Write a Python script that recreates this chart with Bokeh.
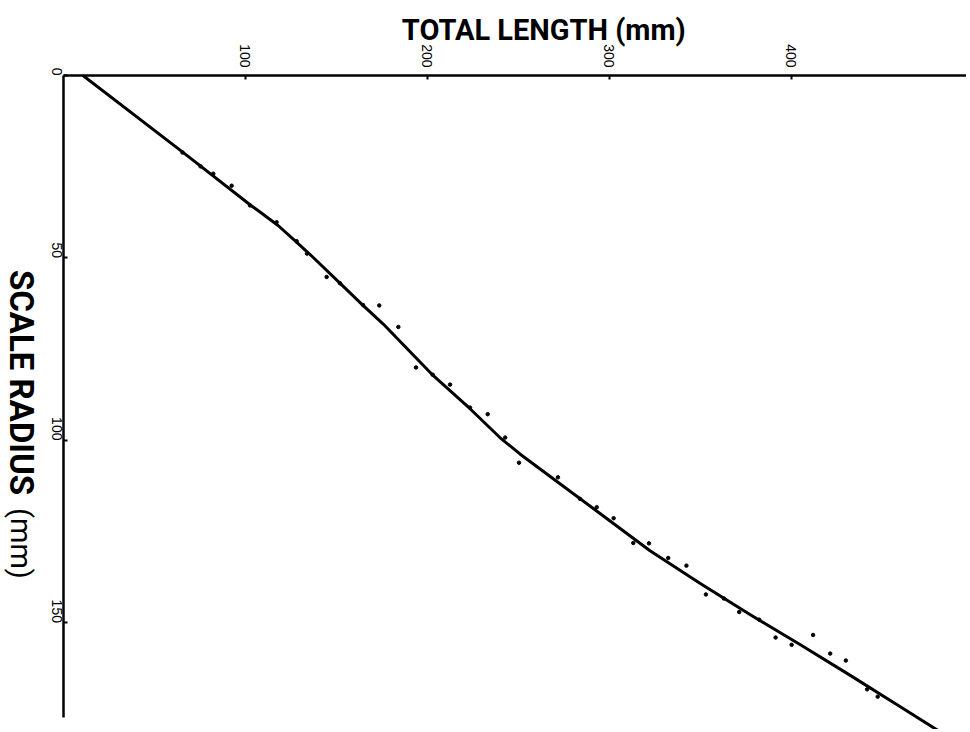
import math
from bokeh.plotting import figure
from bokeh.layouts import row
from bokeh.models import Range1d, FixedTicker, Label
from bokeh.embed import file_html
from bokeh.resources import INLINE

# Observed points: total length (mm) vs scale radius (mm)
total_length = [65.4, 75.3, 82.3, 92.4, 102.5, 117.1, 128.1, 133.8, 144.6, 151.9,
                164.6, 173.5, 184.0, 193.7, 202.9, 212.4, 223.4, 233.1, 242.7, 250.3,
                271.7, 283.8, 293.0, 302.3, 313.1, 321.7, 332.3, 342.3, 353.0, 362.9,
                371.3, 382.3, 391.3, 400.1, 411.9, 421.3, 429.9, 441.6, 447.4]
scale_radius = [21.1, 24.9, 26.9, 30.2, 35.6, 40.2, 45.4, 48.8, 55.2, 56.9,
                62.9, 63.0, 68.9, 80.0, 82.0, 84.7, 91.0, 92.8, 99.2, 106.1,
                110.1, 116.0, 118.3, 121.3, 128.1, 128.2, 132.2, 134.3, 142.2, 143.3,
                147.0, 149.1, 154.0, 156.0, 153.3, 158.4, 160.3, 168.2, 170.2]

# Fitted curve
curve_length = [10.7, 65.5, 102.5, 108.0, 117.9, 127.9, 137.1, 151.9, 164.0, 175.7,
                202.3, 223.4, 239.8, 250.8, 269.1, 294.8, 322.3, 349.7, 377.2, 404.7,
                432.1, 459.6, 481.6]
curve_radius = [0.0, 21.0, 35.4, 37.4, 41.1, 45.6, 49.8, 56.9, 62.7, 68.1,
                81.8, 91.3, 99.2, 103.7, 110.5, 120.0, 130.2, 139.1, 147.7, 155.9,
                164.3, 172.9, 179.8]

x_ticks = [100, 200, 300, 400]
y_ticks = [0, 50, 100, 150]

x_title = "TOTAL LENGTH (mm)"
y_title_bold = "SCALE RADIUS"
y_title_unit = "(mm)"

NB = "\u00a0"
LEFT_W = 40
TOTAL_W = 966
TOTAL_H = 729
FRAME_TOP = 75

# ---- left strip holding the vertical title (its frame is aligned with the main frame) ----
left = figure(width=LEFT_W, height=TOTAL_H, output_backend="svg", toolbar_location=None,
              x_axis_type=None, y_axis_type=None,
              x_range=Range1d(0, LEFT_W), y_range=Range1d(TOTAL_H, FRAME_TOP),
              min_border=0, min_border_left=0, min_border_right=0,
              min_border_top=0, min_border_bottom=0)
left.outline_line_color = None
left.xgrid.visible = False
left.ygrid.visible = False
left.add_layout(Label(x=20.5, y=382, text=y_title_bold, text_font="Roboto",
                      text_font_style="bold", text_font_size="33px", text_align="center",
                      text_baseline="middle", angle=-math.pi / 2, text_color="black"))
left.add_layout(Label(x=20.5, y=543, text=y_title_unit, text_font="Roboto",
                      text_font_style="normal", text_font_size="29px", text_align="center",
                      text_baseline="middle", angle=-math.pi / 2, text_color="black"))

# ---- main plot ----
p = figure(width=TOTAL_W - LEFT_W, height=TOTAL_H, output_backend="svg", toolbar_location=None,
           x_axis_location="above",
           x_range=Range1d(0, 496.2), y_range=Range1d(179.2, 0),
           min_border_left=23, min_border_right=0, min_border_top=FRAME_TOP, min_border_bottom=0)
p.outline_line_color = None
p.xgrid.visible = False
p.ygrid.visible = False
p.background_fill_color = "white"
p.border_fill_color = "white"

for ax in (p.xaxis[0], p.yaxis[0]):
    ax.axis_line_width = 2.5
    ax.axis_line_color = "black"
    ax.major_tick_in = 4
    ax.major_tick_out = 0
    ax.major_tick_line_width = 2
    ax.minor_tick_line_color = None
    ax.major_label_text_font = "Liberation Sans"
    ax.major_label_text_font_size = "14px"
    ax.major_label_text_color = "black"
    ax.major_label_orientation = -math.pi / 2

p.xaxis.ticker = FixedTicker(ticks=x_ticks)
p.yaxis.ticker = FixedTicker(ticks=y_ticks)
p.xaxis.major_label_standoff = 8
p.yaxis.major_label_standoff = 7
p.yaxis.bounds = (0, 176)

p.xaxis.axis_label = NB * 8 + x_title
p.xaxis.axis_label_text_font = "Roboto"
p.xaxis.axis_label_text_font_style = "bold"
p.xaxis.axis_label_text_font_size = "29px"
p.xaxis.axis_label_text_color = "black"
p.xaxis.axis_label_standoff = -6

p.line(curve_length, curve_radius, line_width=3, color="black", line_join="round")
p.scatter(total_length, scale_radius, size=3.5, color="black")

layout = row(left, p, spacing=0)
open("out.html", "w").write(file_html(layout, INLINE))
